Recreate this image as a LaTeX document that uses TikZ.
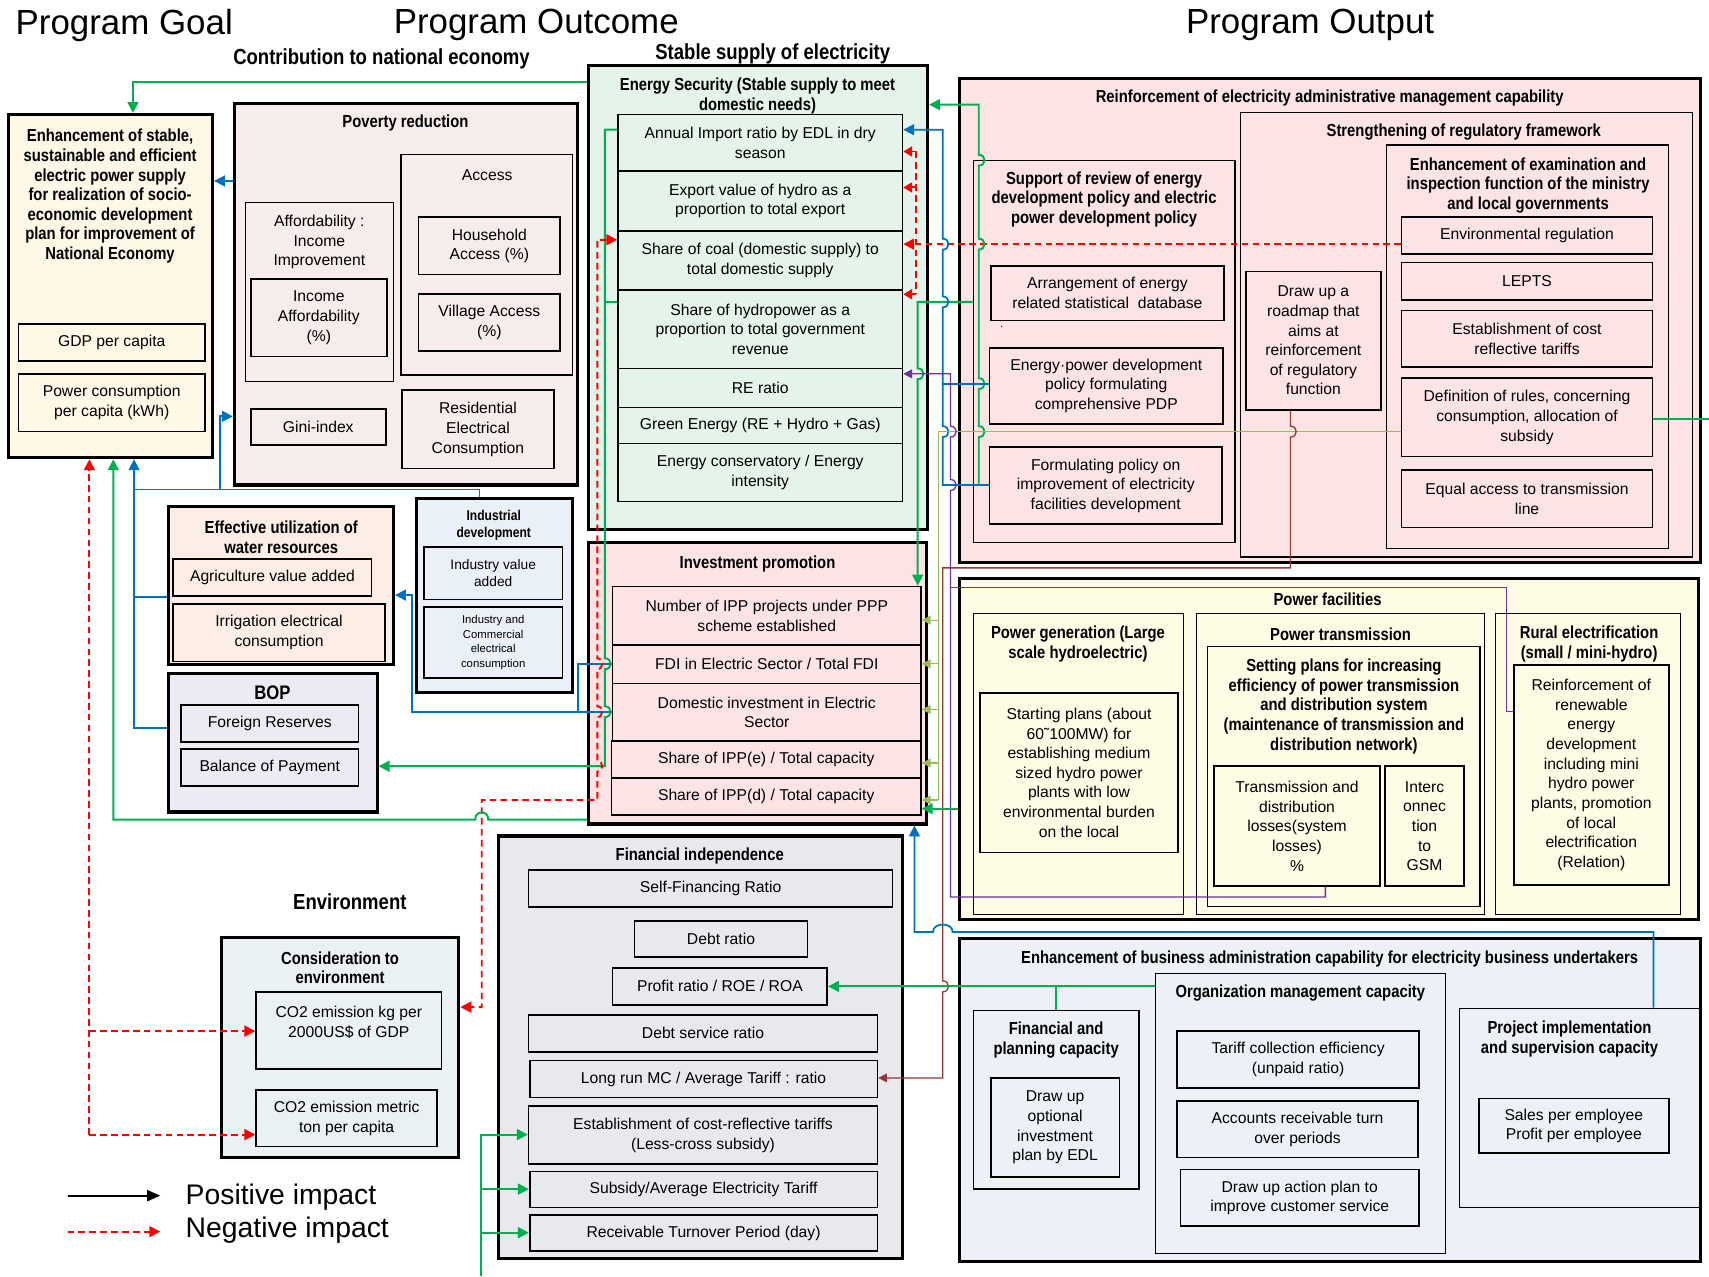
\documentclass[tikz,border=0pt]{standalone}
\usepackage{fontspec}
\setmainfont{Liberation Sans}
\newfontfamily\hdf{Liberation Sans}[FakeStretch=0.85]
\usetikzlibrary{arrows.meta}
\definecolor{cg}{HTML}{00B050}
\definecolor{cb}{HTML}{0070C0}
\definecolor{cr}{HTML}{FF0000}
\definecolor{cp}{HTML}{7030A0}
\definecolor{cl}{HTML}{9BBB59}
\definecolor{cbr}{HTML}{953735}
\definecolor{fGoal}{HTML}{FFF8E6}
\definecolor{fPov}{HTML}{F7ECEC}
\definecolor{fEn}{HTML}{E4F4EA}
\definecolor{fInv}{HTML}{FCE4E4}
\definecolor{fWat}{HTML}{FCEEE4}
\definecolor{fInd}{HTML}{EAF0F8}
\definecolor{fBop}{HTML}{EEEAF4}
\definecolor{fFin}{HTML}{E8E9EC}
\definecolor{fCon}{HTML}{E9F1F3}
\definecolor{fRein}{HTML}{FDE4E4}
\definecolor{fPow}{HTML}{FEFCE5}
\definecolor{fBus}{HTML}{EDF1F7}
% box from (x1,y1) to (x2,y2) in picture pixels
\newcommand{\BX}[7][leaf]{\node[#1, minimum width={(#5-#3)*0.5pt}, minimum height={(#6-#4)*0.5pt}] (#2) at ({(#3+#5)/2},{(#4+#6)/2}) {#7};}
\begin{document}
\begin{tikzpicture}[x=0.5pt,y=-0.5pt,
  outer/.style={draw=black, line width=1.4pt, inner sep=0pt},
  mid/.style={draw=black, line width=0.6pt, inner sep=0pt},
  leaf/.style={draw=black, line width=0.75pt, inner sep=0pt, align=center, font=\fontsize{7.2}{9}\selectfont},
  txt/.style={inner sep=0pt, align=center, font=\fontsize{7.2}{9}\selectfont},
  hd/.style={inner sep=0pt, align=center, font=\hdf\bfseries\fontsize{8}{9}\selectfont},
  big/.style={inner sep=0pt, align=center, font=\hdf\bfseries\fontsize{10}{11}\selectfont},
  ttl/.style={inner sep=0pt, font=\fontsize{16}{18}\selectfont},
  leg/.style={inner sep=0pt, anchor=west, font=\fontsize{13}{15}\selectfont},
  gN/.style={draw=cg, line width=0.9pt},
  gA/.style={gN, -{Triangle[length=5pt,width=5pt]}},
  bN/.style={draw=cb, line width=0.8pt},
  bA/.style={bN, -{Triangle[length=5pt,width=5pt]}},
  rN/.style={draw=cr, line width=0.9pt, dash pattern=on 3pt off 2pt},
  rA/.style={rN, -{Triangle[length=5pt,width=5pt]}},
  rS/.style={rN, -{Triangle[length=4pt,width=4.5pt]}},
  pN/.style={draw=cp, line width=0.6pt},
  pA/.style={pN, -{Triangle[length=4pt,width=4pt]}},
  lN/.style={draw=cl, line width=0.6pt},
  lA/.style={lN, -{Triangle[length=4pt,width=4pt]}},
  brA/.style={draw=cbr, line width=0.6pt, -{Triangle[length=4pt,width=4pt]}}
]
\fill[white] (0,0) rectangle (1568,1171);
\useasboundingbox (0,0) rectangle (1568,1171);

% ---------- titles ----------
\node[ttl] (tGoal) at (114,23) {Program Goal};
\node[ttl] (tOutc) at (492,23) {Program Outcome};
\node[ttl] (tOutp) at (1202,23) {Program Output};
\node[big] (tContrib) at (350,54) {Contribution to national economy};
\node[big] (tStable) at (709,49) {Stable supply of electricity};
\node[big] (tEnv) at (321,827) {Environment};

% ---------- goal ----------
\BX[outer, fill=fGoal]{goal}{8}{105}{195}{420}{}
\node[hd] (goalT) at (101,180) {Enhancement of stable,\\sustainable and efficient\\electric power supply\\for realization of socio-\\economic development\\plan for improvement of\\National Economy};
\BX{gdp}{17}{297}{188}{331}{GDP per capita}
\BX{pcons}{17}{343}{188}{396}{Power consumption\\per capita (kWh)}

% ---------- poverty ----------
\BX[outer, fill=fPov]{pov}{215}{95}{530}{445}{}
\node[hd] (povT) at (372,113) {Poverty reduction};
\BX[mid]{afford}{225}{186}{361}{350}{}
\node[txt] (affordT) at (293,222) {Affordability :\\Income\\Improvement};
\BX{incaff}{230}{256}{355}{327}{Income\\Affordability\\(\%)}
\BX[mid]{access}{368}{142}{525}{344}{}
\node[txt] (accessT) at (447,161) {Access};
\BX{hhacc}{384}{199}{514}{252}{Household\\Access (\%)}
\BX{vilacc}{384}{270}{514}{322}{Village Access\\(\%)}
\BX{gini}{230}{375}{354}{408}{Gini-index}
\BX{resid}{369}{358}{508}{430}{Residential\\Electrical\\Consumption}

% ---------- energy security ----------
\BX[outer, fill=fEn]{ensec}{540}{60}{851}{486}{}
\node[hd] (ensecT) at (695,88) {Energy Security (Stable supply to meet\\domestic needs)};
\BX{ai}{567}{105}{828}{157}{Annual Import ratio by EDL in dry\\season}
\BX{ev}{567}{157}{828}{212}{Export value of hydro as a\\proportion to total export}
\BX{sc}{567}{212}{828}{266}{Share of coal (domestic supply) to\\total domestic supply}
\BX{sh}{567}{266}{828}{338}{Share of hydropower as a\\proportion to total government\\revenue}
\BX{re}{567}{338}{828}{374}{RE ratio}
\BX{ge}{567}{374}{828}{407}{Green Energy (RE + Hydro + Gas)}
\BX{ec}{567}{407}{828}{460}{Energy conservatory / Energy\\intensity}

% ---------- investment ----------
\BX[outer, fill=fInv]{inv}{540}{498}{850}{756}{}
\node[hd] (invT) at (695,517) {Investment promotion};
\BX{ipp}{562}{538}{845}{592}{Number of IPP projects under PPP\\scheme established}
\BX{fdi}{562}{592}{845}{627}{FDI in Electric Sector / Total FDI}
\BX{dom}{562}{627}{845}{680}{Domestic investment in Electric\\Sector}
\BX{ippe}{561}{680}{845}{714}{Share of IPP(e) / Total capacity}
\BX{ippd}{561}{714}{845}{748}{Share of IPP(d) / Total capacity}

% ---------- water ----------
\BX[outer, fill=fWat]{wat}{155}{465}{361}{610}{}
\node[hd] (watT) at (258,493) {Effective utilization of\\water resources};
\BX{agri}{159}{513}{341}{547}{Agriculture value added}
\BX{irr}{159}{554}{353}{607}{Irrigation electrical\\consumption}

% ---------- industrial ----------
\BX[outer, fill=fInd]{ind}{382}{457}{525}{635}{}
\node[hd, font=\hdf\bfseries\fontsize{6.5}{8}\selectfont] (indT) at (453,482) {Industrial\\development};
\BX[leaf, font=\fontsize{6.3}{8}\selectfont]{indva}{389}{502}{516}{550}{Industry value\\added}
\BX[leaf, font=\fontsize{5.2}{6.6}\selectfont]{indcom}{389}{557}{516}{622}{Industry and\\Commercial\\electrical\\consumption}

% ---------- BOP ----------
\BX[outer, fill=fBop]{bop}{155}{618}{346}{745}{}
\node[hd, font=\hdf\bfseries\fontsize{9}{10}\selectfont] (bopT) at (250,636) {BOP};
\BX{forres}{166}{647}{329}{681}{Foreign Reserves}
\BX{bal}{166}{687}{329}{721}{Balance of Payment}

% ---------- financial independence ----------
\BX[outer, fill=fFin]{fin}{457}{767}{828}{1155}{}
\node[hd] (finT) at (642,785) {Financial independence};
\BX{sfr}{485}{798}{819}{832}{Self-Financing Ratio}
\BX{debt}{582}{845}{741}{878}{Debt ratio}
\BX{prof}{562}{888}{759}{922}{Profit ratio / ROE / ROA}
\BX{dsr}{485}{931}{805}{965}{Debt service ratio}
\BX{lrmc}{486}{973}{805}{1007}{Long run MC / Average Tariff : ratio}
\BX{ecrt}{485}{1015}{805}{1068}{Establishment of cost-reflective tariffs\\(Less-cross subsidy)}
\BX{subs}{486}{1075}{805}{1108}{Subsidy/Average Electricity Tariff}
\BX{rtp}{486}{1115}{805}{1148}{Receivable Turnover Period (day)}

% ---------- consideration to environment ----------
\BX[outer, fill=fCon]{con}{203}{860}{421}{1062}{}
\node[hd] (conT) at (312,888) {Consideration to\\environment};
\BX{co2a}{235}{910}{405}{981}{}
\node[txt] (co2aT) at (320,938) {CO2 emission kg per\\2000US\$ of GDP};
\BX{co2b}{235}{1000}{401}{1052}{CO2 emission metric\\ton per capita}

% ---------- reinforcement ----------
\BX[outer, fill=fRein]{rein}{880}{72}{1560}{516}{}
\node[hd] (reinT) at (1220,90) {Reinforcement of electricity administrative management capability};
\BX[mid]{supp}{893}{147}{1133}{498}{}
\node[hd] (suppT) at (1013,183) {Support of review of energy\\development policy and electric\\power development policy};
\BX{arr}{909}{244}{1123}{294}{Arrangement of energy\\related statistical\ \ database}
\node[txt, font=\fontsize{5}{6}\selectfont] (dot) at (919,300) {.};
\BX{epd}{908}{319}{1122}{389}{Energy·power development\\policy formulating\\comprehensive PDP}
\BX{fpol}{908}{410}{1121}{481}{Formulating policy on\\improvement of electricity\\facilities development}
\BX[mid]{str}{1138}{103}{1553}{511}{}
\node[hd] (strT) at (1343,121) {Strengthening of regulatory framework};
\BX{road}{1143}{249}{1267}{376}{Draw up a\\roadmap that\\aims at\\reinforcement\\of regulatory\\function}
\BX[mid]{exam}{1272}{133}{1531}{503}{}
\node[hd] (examT) at (1402,170) {Enhancement of examination and\\inspection function of the ministry\\and local governments};
\BX{envreg}{1286}{199}{1516}{233}{Environmental regulation}
\BX{lepts}{1286}{241}{1516}{275}{LEPTS}
\BX{ecost}{1286}{285}{1516}{337}{Establishment of cost\\reflective tariffs}
\BX{defr}{1286}{347}{1516}{419}{Definition of rules, concerning\\consumption, allocation of\\subsidy}
\BX{eqacc}{1286}{431}{1516}{484}{Equal access to transmission\\line}

% ---------- power facilities ----------
\BX[outer, fill=fPow]{pow}{880}{531}{1558}{844}{}
\node[hd] (powT) at (1218,550) {Power facilities};
\BX[mid]{pgen}{893}{563}{1086}{839}{}
\node[hd] (pgenT) at (989,591) {Power generation (Large\\scale hydroelectric)};
\BX{pgenI}{899}{636}{1081}{782}{Starting plans (about\\60˜100MW) for\\establishing medium\\sized hydro power\\plants with low\\environmental burden\\on the local}
\BX[mid]{ptr}{1098}{563}{1362}{839}{}
\node[hd] (ptrT) at (1230,582) {Power transmission};
\BX[mid]{setp}{1108}{593}{1358}{832}{}
\node[hd] (setT) at (1233,648) {Setting plans for increasing\\efficiency of power transmission\\and distribution system\\(maintenance of transmission and\\distribution network)};
\BX{tdl}{1114}{703}{1266}{813}{Transmission and\\distribution\\losses(system\\losses)\\\%}
\BX{gsm}{1271}{703}{1343}{813}{Interc\\onnec\\tion\\to\\GSM}
\BX[mid]{rural}{1372}{563}{1542}{839}{}
\node[hd] (ruralT) at (1458,591) {Rural electrification\\(small / mini-hydro)};
\BX{ruralI}{1389}{610}{1531}{812}{Reinforcement of\\renewable\\energy\\development\\including mini\\hydro power\\plants, promotion\\of local\\electrification\\(Relation)}

% ---------- business administration ----------
\BX[outer, fill=fBus]{bus}{880}{861}{1560}{1157}{}
\node[hd] (busT) at (1220,880) {Enhancement of business administration capability for electricity business undertakers};
\BX[mid]{finpl}{893}{927}{1045}{1091}{}
\node[hd] (finplT) at (969,954) {Financial and\\planning capacity};
\BX{finplI}{909}{989}{1027}{1080}{Draw up\\optional\\investment\\plan by EDL}
\BX[mid]{org}{1060}{893}{1326}{1150}{}
\node[hd] (orgT) at (1193,911) {Organization management capacity};
\BX{tce}{1080}{946}{1302}{998}{Tariff collection efficiency\\(unpaid ratio)}
\BX{arto}{1080}{1010}{1301}{1062}{Accounts receivable turn\\over periods}
\BX{dap}{1083}{1073}{1302}{1125}{Draw up action plan to\\improve customer service}
\BX[mid]{proj}{1339}{925}{1559}{1108}{}
\node[hd] (projT) at (1440,953) {Project implementation\\and supervision capacity};
\BX{spe}{1357}{1008}{1531}{1058}{Sales per employee\\Profit per employee}

% ---------- legend ----------
\coordinate (lp1) at (62,1097);
\coordinate (lp2) at (147,1097);
\coordinate (ln1) at (62,1130);
\coordinate (ln2) at (147,1130);
\draw[black, line width=1pt, -{Triangle[length=6pt,width=5pt]}] (lp1) -- (lp2);
\draw[rA] (ln1) -- (ln2);
\node[leg] (lpos) at (170,1098) {Positive impact};
\node[leg] (lneg) at (170,1129) {Negative impact};

% ---------- connectors: left part ----------
\draw[gA] (ensec.west |- 0,75) -- (122,75) -- (122,75 |- goal.north);
\draw[bA] (pov.west |- 0,166) -- (goal.east |- 0,166);
\draw[bA] (bop.west |- 0,668) -- (123,668) -- (123,668 |- goal.south);
\draw[bN] (wat.west |- 0,548) -- (123,548);
\draw[bN] (ind.north -| 440,0) -- (440,449) -- (123,449);
\draw[bA] (202,449) -- (202,382) -- (pov.west |- 0,382);
\draw[bN] (fdi.west |- 0,609) -- (530,609) -- (530,653);
\draw[bA] (dom.west |- 0,653) -- (378,653) -- (378,546) -- (wat.east |- 0,546);
\draw[gN] (sh.west |- 0,277) -- (555,277);
\draw[gA] (ai.west |- 0,119) -- (555,119) -- (555,604) .. controls (562,604) and (562,614) .. (555,614) -- (555,648) .. controls (562,648) and (562,658) .. (555,658) -- (555,703) -- (bop.east |- 0,703);
\draw[rN, {Triangle[length=5pt,width=5pt]}-{Triangle[length=5pt,width=5pt]}] (sc.west |- 0,220) -- (548,220) -- (548,604) .. controls (554,604) and (554,614) .. (548,614) -- (548,648) .. controls (554,648) and (554,658) .. (548,658) -- (548,698) .. controls (554,698) and (554,708) .. (548,708) -- (548,734) -- (442,734) -- (442,924) -- (con.east |- 0,924);
\draw[gA] (inv.west |- 0,752) -- (448,752) .. controls (448,743) and (436,743) .. (436,752) -- (104,752) -- (104,752 |- goal.south);
\draw[rA] (82,1041) -- (82,1041 |- goal.south);
\draw[rA] (82,946) -- (co2a.west |- 0,946);
\draw[rA] (82,1041) -- (co2b.west |- 0,1041);
\coordinate (gbot) at (441,1171);
\draw[gA] (gbot) -- (441,1041) -- (ecrt.west |- 0,1041);
\draw[gA] (441,1091) -- (subs.west |- 0,1091);
\draw[gA] (441,1131) -- (rtp.west |- 0,1131);

% ---------- connectors: right part ----------
\draw[rA] (envreg.west |- 0,224) -- (sc.east |- 0,224);
\draw[rN] (840,139) -- (840,270);
\draw[rS] (840,139) -- (ai.east |- 0,139);
\draw[rS] (840,172) -- (ev.east |- 0,172);
\draw[rS] (840,270) -- (sh.east |- 0,270);
\draw[gA] (supp.west |- 0,277) -- (842,277) -- (842,338) .. controls (849,338) and (849,348) .. (842,348) -- (842,348 |- ipp.north);
\draw[gA] (fpol.west |- 0,445) -- (898,445) -- (898,401) .. controls (905,401) and (905,391) .. (898,391) -- (898,357) .. controls (905,357) and (905,347) .. (898,347) -- (898,229) .. controls (905,229) and (905,219) .. (898,219) -- (898,152) .. controls (905,152) and (905,142) .. (898,142) -- (898,96) -- (ensec.east |- 0,96);
\draw[bA] (fpol.west |- 0,445) -- (865,445) -- (865,401) .. controls (872,401) and (872,391) .. (865,391) -- (865,282) .. controls (872,282) and (872,272) .. (865,272) -- (865,229) .. controls (872,229) and (872,219) .. (865,219) -- (865,119) -- (ai.east |- 0,119);
\draw[bN] (epd.west |- 0,352) -- (865,352);
\draw[lN] (defr.west |- 0,396) -- (861,396) -- (861,734);
\draw[lA] (861,569) -- (ipp.east |- 0,569);
\draw[lA] (861,609) -- (fdi.east |- 0,609);
\draw[lA] (861,651) -- (dom.east |- 0,651);
\draw[lA] (861,700) -- (ippe.east |- 0,700);
\draw[lA] (861,734) -- (ippd.east |- 0,734);
\coordinate (gedge) at (1568,384);
\draw[gN] (defr.east |- 0,384) -- (gedge);
\draw[pA] (tdl.south -| 1216,0) -- (1216,823) -- (872,823) -- (872,450) .. controls (879,450) and (879,440) .. (872,440) -- (872,401) .. controls (879,401) and (879,391) .. (872,391) -- (872,343) -- (re.east |- 0,343);
\draw[pN] (ruralI.west |- 0,653) -- (1382,653) -- (1382,539) -- (872,539);
\draw[brA] (road.south -| 1184,0) -- (1184,391) .. controls (1191,391) and (1191,401) .. (1184,401) -- (1184,521) -- (865,521) -- (865,900) .. controls (872,900) and (872,910) .. (865,910) -- (865,989) -- (lrmc.east |- 0,989);
\draw[gA] (pow.west |- 0,742) -- (ippd.east |- 0,742);
\draw[bA] (proj.north -| 1517,0) -- (1517,855) -- (874,855) .. controls (874,846) and (856,846) .. (856,855) -- (839,855) -- (839,855 |- inv.south);
\draw[gA] (org.west |- 0,905) -- (prof.east |- 0,905);
\draw[gN] (finpl.north) -- (finpl.north |- 0,905);
\end{tikzpicture}
\end{document}
